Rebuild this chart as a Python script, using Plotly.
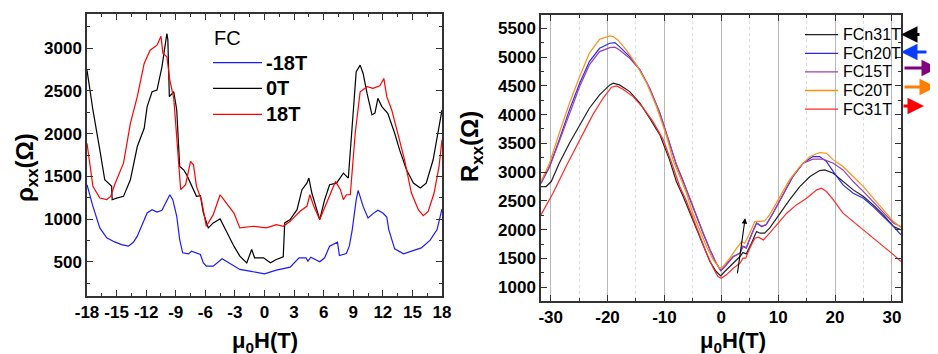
import plotly.graph_objects as go

W, H = 938, 354
OFF = 8  # page body margin of the browser shifts the figure by 8px


def px(x):
    return (x - OFF) / W


def py(y):
    return 1 - (y - OFF) / H


# ---------------- Left panel data (rho_xx vs mu0H, FC) ----------------
L_blue_x = [-18, -17.4, -16.7, -16.0, -15.2, -14.5, -13.8, -13.3, -12.9, -12.4, -11.9, -11.4, -10.9,
            -10.4, -10.0, -9.6, -9.3, -8.9, -8.6, -8.3, -7.7, -7.4, -6.5, -6.2, -5.9, -5.2, -4.3,
            -3.5, -3.0, -2.5, -1.5, 0.0, 1.2, 2.6, 3.5, 4.2, 4.4, 4.7, 5.6, 6.1, 6.6, 7.4, 7.6,
            8.3, 8.6, 8.9, 9.3, 9.5, 10.0, 10.5, 11.0, 11.5, 12.0, 12.4, 12.6, 13.2, 14.1, 15.1,
            15.9, 16.8, 17.5, 18.0]
L_blue_y = [1402, 1149, 897, 780, 733, 702, 683, 729, 800, 935, 1071, 1110, 1083,
            1103, 1188, 1285, 1227, 1033, 760, 605, 593, 624, 585, 488, 450, 450, 535,
            477, 450, 411, 391, 360, 403, 438, 547, 547, 508, 554, 500, 547, 683, 729, 574,
            597, 683, 877, 1227, 1336, 1149, 1013, 1064, 1103, 1071, 1025, 877, 652, 593, 636,
            663, 753, 877, 1118]

L_black_x = [-18, -17.4, -16.7, -16.2, -15.5, -15.45, -15.0, -14.3, -13.6, -12.9, -12.2, -11.9,
             -11.4, -10.9, -10.4, -9.9, -9.8, -9.65, -9.2, -8.9, -8.6, -8.2, -7.9, -7.4, -6.9,
             -6.5, -6.2, -5.7, -5.2, -4.5, -3.8, -3.1, -2.5, -1.8, -1.3, -1.0, -0.1, 0.6, 1.2,
             1.9, 2.05, 2.6, 3.3, 3.8, 4.3, 4.5, 4.8, 5.3, 5.6, 6.1, 6.6, 7.3, 7.8, 8.0, 8.5, 8.8,
             9.3, 9.7, 10.0, 10.4, 10.9, 11.2, 11.5, 11.9, 12.5, 13.2, 13.7, 14.4, 15.1, 15.8,
             16.4, 17.1, 17.6, 18.0]
L_black_y = [2743, 2277, 1810, 1460, 1383, 1227, 1246, 1266, 1460, 1849, 2063, 2316,
             2490, 2510, 2782, 3171, 3100, 2432, 2490, 2277, 1616, 1577, 1520, 1383, 1266,
             1275, 1071, 897, 955, 1002, 838, 683, 566, 488, 644, 547, 547, 488, 527,
             558, 955, 994, 1110, 1344, 1421, 1480, 1305, 1110, 994, 1227, 1402, 1421, 1499, 1538,
             1480, 1927, 2724, 2802, 2704, 2471, 2219, 2240, 2413, 2316, 2238, 2005, 1810, 1577,
             1421, 1363, 1421, 1694, 2005, 2277]

L_red_x = [-18, -17.4, -16.7, -16.0, -15.6, -15.2, -14.3, -13.6, -12.9, -12.2, -11.6, -10.9,
           -10.5, -10.3, -9.9, -9.6, -9.2, -8.9, -8.5, -8.0, -7.5, -7.2, -6.9, -6.4, -5.9, -5.2,
           -4.5, -4.0, -3.1, -2.5, -1.1, 0.2, 1.2, 1.9, 2.6, 3.6, 4.3, 4.6, 5.0, 5.6, 6.3, 7.2,
           7.7, 8.0, 8.3, 8.7, 9.2, 9.7, 10.4, 11.0, 11.7, 12.1, 12.4, 12.9, 13.6, 14.2, 14.9,
           15.6, 16.1, 16.6, 17.2, 17.7, 18.0]
L_red_y = [1888, 1383, 1246, 1227, 1266, 1402, 1655, 2121, 2432, 2821, 2977, 3035,
           3140, 2938, 2900, 2627, 2413, 1927, 1344, 1402, 1674, 1635, 1383, 1227, 916, 1052,
           1285, 1208, 1071, 897, 916, 897, 935, 916, 974, 1091, 1149, 1285, 1149, 994, 1188, 1441,
           1344, 1227, 1285, 1285, 2005, 2490, 2549, 2530, 2560, 2646, 2432, 2277, 1966, 1694, 1305,
           1110, 1040, 1090, 1305, 1616, 1927]

L_names = ["-18T", "0T", "18T"]

# ---------------- Right panel data (R_xx vs mu0H) ----------------
R_black_x = [-31.7, -30.8, -29.9, -28.5, -26.7, -24.9, -23.2, -21.4, -19.6, -19.0, -17.9, -16.1,
             -14.3, -12.6, -10.8, -9.1, -7.9, -6.7, -5.5, -4.4, -3.2, -2.0, -0.9, -0.1, 0.6, 2.1,
             3.3, 3.8, 4.4, 5.3, 6.2, 6.8, 7.6, 8.5, 10.3, 12.0, 13.8, 15.6, 17.3, 18.2, 19.7,
             21.4, 23.2, 25.0, 26.7, 28.5, 30.3, 31.6]
R_black_y = [2749, 2749, 2836, 3154, 3502, 3820, 4110, 4341, 4515, 4544, 4515, 4399,
             4197, 3936, 3647, 3212, 2836, 2575, 2286, 1996, 1707, 1446, 1272, 1197, 1272, 1417,
             1533, 1602, 1579, 1764, 1967, 1938, 1938, 2025, 2286, 2517, 2749, 2923, 3027, 3038, 2981,
             2836, 2691, 2575, 2430, 2257, 2054, 1996]

R_blue_x = [-31.7, -30.2, -28.5, -26.7, -24.9, -23.2, -21.4, -19.6, -18.7, -17.9, -16.1, -14.3,
            -12.6, -10.8, -9.1, -7.9, -6.7, -5.5, -4.4, -3.2, -2.0, -0.9, -0.1, 0.6, 2.1, 3.3,
            3.8, 4.4, 5.3, 6.2, 7.1, 7.9, 9.1, 10.8, 12.6, 14.4, 16.1, 17.3, 18.5, 19.7, 21.4,
            23.2, 25.0, 26.7, 28.5, 30.3, 31.6]
R_blue_y = [2807, 3096, 3560, 4081, 4544, 4920, 5152, 5239, 5250, 5181, 5007, 4776,
            4457, 4023, 3502, 3125, 2836, 2517, 2228, 1938, 1649, 1417, 1290, 1360, 1533, 1591,
            1707, 1678, 1909, 2112, 2054, 2083, 2286, 2604, 2923, 3154, 3270, 3270, 3183, 3009, 2778,
            2633, 2546, 2401, 2228, 2054, 1909]

R_purple_x = [-31.7, -30.2, -28.5, -26.7, -24.9, -23.2, -21.4, -19.6, -18.7, -17.9, -16.1, -14.3,
              -12.6, -10.8, -9.1, -7.9, -6.7, -5.5, -4.4, -3.2, -2.0, -0.9, -0.1, 0.6, 2.1, 3.3,
              3.8, 4.4, 5.3, 6.2, 7.1, 7.9, 9.1, 10.8, 12.6, 14.4, 16.1, 17.9, 19.7, 21.4, 23.2,
              25.0, 26.7, 28.5, 30.3, 31.6]
R_purple_y = [2807, 3090, 3530, 4023, 4486, 4863, 5094, 5164, 5170, 5123, 4978, 4776,
              4457, 4030, 3510, 3135, 2845, 2525, 2235, 1945, 1655, 1420, 1290, 1355, 1530, 1595,
              1715, 1690, 1915, 2118, 2060, 2090, 2290, 2610, 2930, 3154, 3224, 3224, 3154, 3038, 2836,
              2662, 2488, 2286, 2112, 2054]

R_orange_x = [-31.7, -30.2, -28.5, -26.7, -24.9, -23.2, -21.4, -19.6, -19.0, -18.2, -16.7, -14.9,
              -13.1, -11.4, -9.6, -8.5, -7.3, -6.1, -5.0, -3.8, -2.6, -1.4, -0.3, 0.3, 1.5, 2.7,
              3.6, 4.1, 5.0, 5.9, 6.8, 7.6, 8.5, 10.3, 12.0, 13.8, 15.6, 17.3, 18.5, 19.7, 21.4,
              23.2, 25.0, 26.7, 28.5, 30.3, 31.6]
R_orange_y = [2836, 3154, 3675, 4197, 4660, 5065, 5308, 5366, 5355, 5297, 5123, 4863,
              4544, 4139, 3618, 3212, 2923, 2633, 2286, 1996, 1707, 1475, 1330, 1359, 1504, 1678,
              1793, 1764, 1938, 2141, 2141, 2150, 2257, 2575, 2865, 3096, 3270, 3340, 3328, 3212, 3096,
              2923, 2749, 2546, 2344, 2141, 2037]

R_red_x = [-31.7, -29.6, -27.3, -24.9, -22.6, -20.8, -19.3, -18.4, -17.3, -15.5, -13.7, -12.0,
           -10.2, -8.5, -7.3, -6.1, -5.0, -3.8, -2.6, -1.4, -0.6, 0.0, 0.9, 2.1, 3.3, 3.8, 4.3,
           5.0, 5.9, 6.5, 7.4, 8.5, 9.7, 11.5, 13.2, 15.0, 16.8, 17.6, 18.5, 19.7, 21.4, 23.2,
           25.0, 26.7, 28.5, 30.3, 31.6]
R_red_y = [2257, 2633, 3096, 3560, 3994, 4283, 4475, 4498, 4440, 4312, 4110, 3878,
           3560, 3096, 2749, 2488, 2199, 1880, 1591, 1330, 1185, 1156, 1214, 1330, 1417, 1504, 1504,
           1678, 1851, 1869, 1822, 1938, 2083, 2286, 2430, 2546, 2691, 2720, 2662, 2517, 2286, 2141,
           1996, 1851, 1707, 1562, 1446]

R_names = ["FCn31T", "FCn20T", "FC15T", "FC20T", "FC31T"]

# tick values / labels
L_xticks = [-18, -15, -12, -9, -6, -3, 0, 3, 6, 9, 12, 15, 18]
L_yticks = [500, 1000, 1500, 2000, 2500, 3000]
R_xticks = [-30, -20, -10, 0, 10, 20, 30]
R_yticks = [1000, 1500, 2000, 2500, 3000, 3500, 4000, 4500, 5000, 5500]

FONT = "Liberation Sans, Arial, Helvetica, sans-serif"
TF = dict(family=FONT, size=17, color="black", weight="bold")
AX = "#333333"

L_colors = ["#1a1aff", "#000000", "#ff0000"]
R_colors = ["#222222", "#2a2aee", "#9b3fb5", "#ff9010", "#ff2a2a"]
ARROW_colors = ["#000000", "#0a3cff", "#800080", "#ff8000", "#ff0000"]

fig = go.Figure()

for xs, ys, c in [(L_blue_x, L_blue_y, L_colors[0]), (L_black_x, L_black_y, L_colors[1]),
                  (L_red_x, L_red_y, L_colors[2])]:
    fig.add_trace(go.Scatter(x=xs, y=ys, mode="lines", line=dict(color=c, width=1.2),
                             xaxis="x", yaxis="y", showlegend=False, hoverinfo="skip"))

for xs, ys, c in [(R_black_x, R_black_y, R_colors[0]), (R_blue_x, R_blue_y, R_colors[1]),
                  (R_purple_x, R_purple_y, R_colors[2]), (R_orange_x, R_orange_y, R_colors[3]),
                  (R_red_x, R_red_y, R_colors[4])]:
    fig.add_trace(go.Scatter(x=xs, y=ys, mode="lines", line=dict(color=c, width=1.2),
                             xaxis="x2", yaxis="y2", showlegend=False, hoverinfo="skip"))


def axis_common():
    return dict(showline=True, linecolor=AX, linewidth=1.5, mirror="allticks",
                ticks="inside", ticklen=6, tickwidth=1.2, tickcolor=AX, zeroline=False,
                tickfont=TF, tickmode="array", automargin=False)


xaxis = axis_common()
xaxis.update(domain=[px(87), px(442)], range=[-18, 18], anchor="y", showgrid=False,
             tickvals=L_xticks, ticktext=[str(v) for v in L_xticks],
             minor=dict(tickmode="linear", tick0=0, dtick=1.5, ticks="inside", ticklen=3,
                        tickcolor=AX, showgrid=False))
yaxis = axis_common()
yaxis.update(domain=[py(296), py(14)], range=[100, 3400], anchor="x", showgrid=False,
             tickvals=L_yticks, ticktext=[str(v) for v in L_yticks],
             minor=dict(tickmode="linear", tick0=0, dtick=250, ticks="inside", ticklen=3,
                        tickcolor=AX, showgrid=False))
xaxis2 = axis_common()
xaxis2.update(domain=[px(541), px(901)], range=[-31.7, 31.6], anchor="y2", showgrid=True,
              gridcolor="#b8b8b8", gridwidth=1,
              tickvals=R_xticks, ticktext=[str(v) for v in R_xticks],
              minor=dict(tickmode="linear", tick0=0, dtick=5, ticks="inside", ticklen=3,
                         tickcolor=AX, showgrid=True, gridcolor="#dcdcdc", griddash="dot"))
yaxis2 = axis_common()
yaxis2.update(domain=[py(301), py(15)], range=[760, 5730], anchor="x2", showgrid=False,
              tickvals=R_yticks, ticktext=[str(v) for v in R_yticks],
              minor=dict(tickmode="linear", tick0=0, dtick=250, ticks="inside", ticklen=3,
                         tickcolor=AX, showgrid=False))

annotations = []
shapes = []

# axis titles
annotations.append(dict(text="μ<sub>0</sub>H(T)", x=px(265), y=py(342), xref="paper", yref="paper",
                        showarrow=False, xanchor="center", yanchor="middle",
                        font=dict(family=FONT, size=22, color="black", weight="bold")))
annotations.append(dict(text="μ<sub>0</sub>H(T)", x=px(733), y=py(342), xref="paper", yref="paper",
                        showarrow=False, xanchor="center", yanchor="middle",
                        font=dict(family=FONT, size=22, color="black", weight="bold")))
annotations.append(dict(text="ρ<sub>xx</sub>(Ω)", x=px(26), y=py(168), xref="paper", yref="paper",
                        showarrow=False, xanchor="center", yanchor="middle", textangle=-90,
                        font=dict(family=FONT, size=24, color="black", weight="bold")))
annotations.append(dict(text="R<sub>xx</sub>(Ω)", x=px(471), y=py(147), xref="paper", yref="paper",
                        showarrow=False, xanchor="center", yanchor="middle", textangle=-90,
                        font=dict(family=FONT, size=24, color="black", weight="bold")))

# left legend (manual)
annotations.append(dict(text="FC", x=px(212), y=py(38), xref="paper", yref="paper", showarrow=False,
                        xanchor="left", yanchor="middle",
                        font=dict(family=FONT, size=20, color="black")))
for i, (name, c) in enumerate(zip(L_names, L_colors)):
    yy = [62.7, 88.3, 114.3][i]
    shapes.append(dict(type="line", xref="paper", yref="paper", x0=px(213), x1=px(262),
                       y0=py(yy), y1=py(yy), line=dict(color=c, width=1.3)))
    annotations.append(dict(text=name, x=px(264), y=py(yy), xref="paper", yref="paper",
                            showarrow=False, xanchor="left", yanchor="middle",
                            font=dict(family=FONT, size=20, color="black", weight="bold")))

# right legend (manual)
for i, (name, c) in enumerate(zip(R_names, R_colors)):
    yy = 34.7 + 18.6 * i
    shapes.append(dict(type="line", xref="paper", yref="paper", x0=px(805), x1=px(838),
                       y0=py(yy), y1=py(yy), line=dict(color=c, width=1.3)))
    annotations.append(dict(text=name, x=px(841), y=py(yy), xref="paper", yref="paper",
                            showarrow=False, xanchor="left", yanchor="middle",
                            font=dict(family=FONT, size=16, color="black")))

# coloured direction arrows to the right of the right panel: (head_x, tail_x, y)
arrow_specs = [(901, 921, 34.5), (901, 928, 52), (938, 903, 68), (936, 903, 87), (924, 902, 106)]
for (hx, tx, yy), c in zip(arrow_specs, ARROW_colors):
    annotations.append(dict(text="", x=px(hx), y=py(yy), xref="paper", yref="paper",
                            ax=tx - hx, ay=0, showarrow=True, arrowhead=2, arrowsize=1.1,
                            arrowwidth=3, arrowcolor=c))

# small black arrow inside right panel
annotations.append(dict(text="", x=4.2, y=2200, xref="x2", yref="y2", ax=2.8, ay=1214,
                        axref="x2", ayref="y2", showarrow=True, arrowhead=2, arrowsize=1,
                        arrowwidth=1.1, arrowcolor="black"))

fig.update_layout(template="none", width=W, height=H, margin=dict(l=0, r=0, t=0, b=0),
                  paper_bgcolor="white", plot_bgcolor="white",
                  xaxis=xaxis, yaxis=yaxis, xaxis2=xaxis2, yaxis2=yaxis2,
                  annotations=annotations, shapes=shapes, showlegend=False)

fig.write_html("out.html")
